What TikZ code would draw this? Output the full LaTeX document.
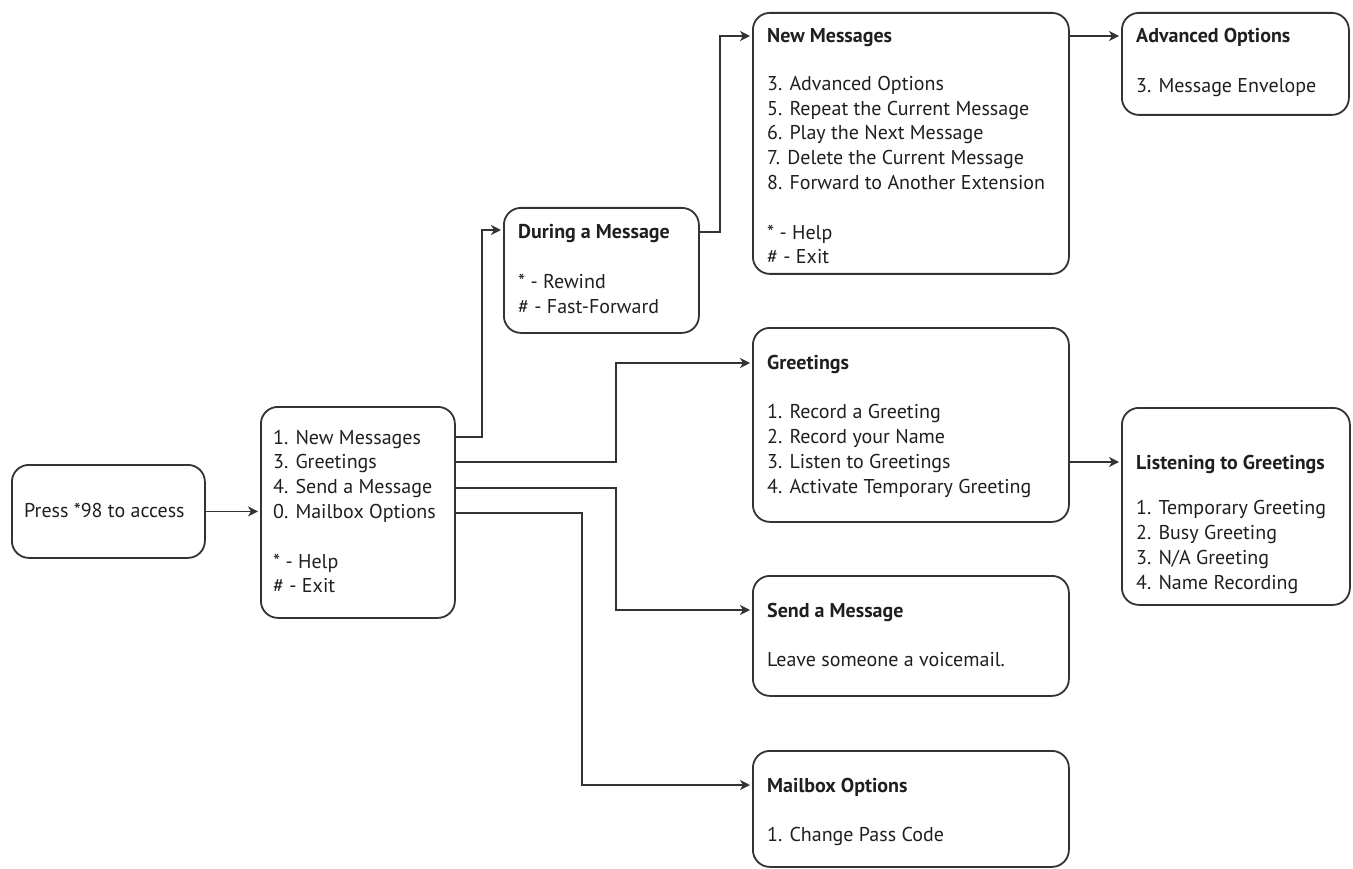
\documentclass[tikz,border=0pt]{standalone}
\usepackage{fontspec}
\setmainfont{PT Sans}
\usetikzlibrary{arrows.meta,calc}
\newcommand{\mytxt}[1]{\parbox[t]{300pt}{\raggedright #1}}
\begin{document}
\begin{tikzpicture}[x=1pt,y=-1pt,
  box/.style={draw=black!80, line width=1.8pt, rounded corners=17pt, anchor=north west, inner sep=0pt},
  txt/.style={anchor=base west, inner sep=0pt, text=black!88, font=\fontsize{20}{24.8}\selectfont},
  conn/.style={draw=black!80, line width=1.6pt, shorten >=2pt, -{Stealth[length=10pt,width=10pt,inset=3pt]}}]
\useasboundingbox (0,0) rectangle (1353,869);

% boxes
\node[box, minimum width=193pt, minimum height=93pt] (press) at (11,464) {};
\node[box, minimum width=194pt, minimum height=211pt] (main) at (260,406) {};
\node[box, minimum width=195pt, minimum height=125pt] (during) at (503,207) {};
\node[box, minimum width=316pt, minimum height=261pt] (new) at (752,12) {};
\node[box, minimum width=227pt, minimum height=102pt] (adv) at (1121,12) {};
\node[box, minimum width=316pt, minimum height=194pt] (greet) at (752,327) {};
\node[box, minimum width=228pt, minimum height=197pt] (listen) at (1121,407) {};
\node[box, minimum width=316pt, minimum height=120pt] (send) at (752,575) {};
\node[box, minimum width=316pt, minimum height=116pt] (mail) at (752,750) {};

% texts
\node[txt] (presst) at (24,517) {Press *98 to access};
\node[txt] (maint) at (273,444) {\mytxt{1. New Messages\\3. Greetings\\4. Send a Message\\0. Mailbox Options\\[24.8pt]* - Help\\\# - Exit}};
\node[txt] (duringt) at (518,239) {\mytxt{\textbf{During a Message}\\[25pt]* - Rewind\\\# - Fast-Forward}};
\node[txt] (newt) at (767,43) {\mytxt{\textbf{New Messages}\\[22.5pt]3. Advanced Options\\5. Repeat the Current Message\\6. Play the Next Message\\7. Delete the Current Message\\8. Forward to Another Extension\\[24.8pt]* - Help\\\# - Exit}};
\node[txt] (advt) at (1136,43) {\mytxt{\textbf{Advanced Options}\\[25pt]3. Message Envelope}};
\node[txt] (greett) at (767,369) {\mytxt{\textbf{Greetings}\\[25pt]1. Record a Greeting\\2. Record your Name\\3. Listen to Greetings\\4. Activate Temporary Greeting}};
\node[txt] (listent) at (1136,469) {\mytxt{\textbf{Listening to Greetings}\\[21pt]1. Temporary Greeting\\2. Busy Greeting\\3. N/A Greeting\\4. Name Recording}};
\node[txt] (sendt) at (767,617) {\mytxt{\textbf{Send a Message}\\[25pt]Leave someone a voicemail.}};
\node[txt] (mailt) at (767,792) {\mytxt{\textbf{Mailbox Options}\\[25pt]1. Change Pass Code}};

% connectors
\draw[conn] (press.east) -- (press.east -| main.west);
\draw[conn] ($(main.north east)+(0,31)$) -- ++(26,0) |- ($(during.north west)+(0,23)$);
\draw[conn] ($(main.north east)+(0,56)$) -- ++(160,0) |- ($(greet.north west)+(0,36)$);
\draw[conn] ($(main.north east)+(0,82)$) -- ++(160,0) |- ($(send.north west)+(0,35)$);
\draw[conn] ($(main.north east)+(0,107)$) -- ++(126,0) |- ($(mail.north west)+(0,35)$);
\draw[conn] ($(during.north east)+(0,25)$) -- ++(20,0) |- ($(new.north west)+(0,24)$);
\draw[conn] ($(new.north east)+(0,24)$) -- ($(adv.north west)+(0,24)$);
\draw[conn] ($(greet.north east)+(0,135)$) -- ($(listen.north west)+(0,55)$);
\end{tikzpicture}
\end{document}
